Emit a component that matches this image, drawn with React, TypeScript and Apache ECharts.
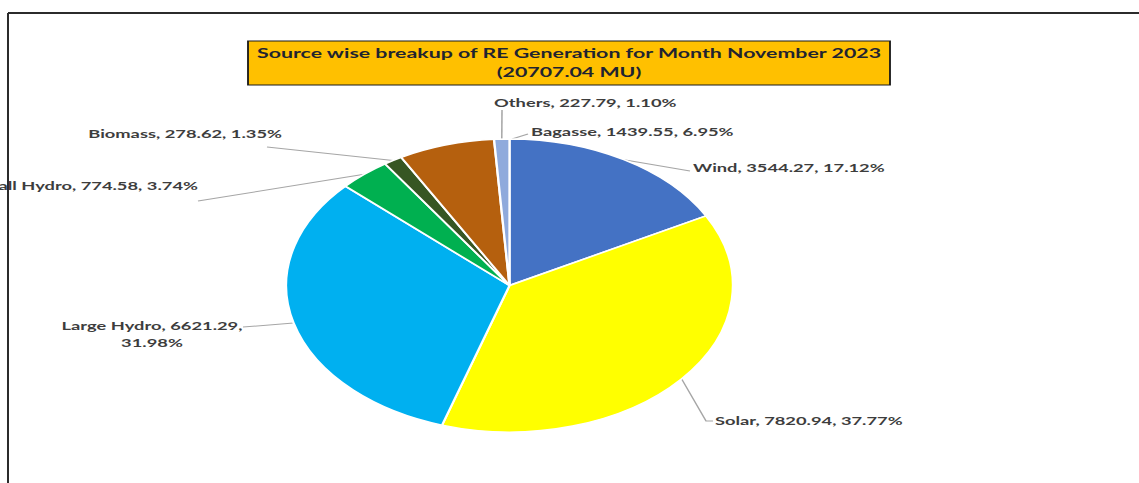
import React, { useEffect, useRef } from "react";
import * as echarts from "echarts";

// Page and horizontal stretch (the reference image is stretched horizontally)
const PAGE_W = 1139;
const PAGE_H = 483;
const INNER_W = 747;
const S = PAGE_W / INNER_W;

// ---- Data ----
const categories = ["Wind", "Solar", "Large Hydro", "Small Hydro", "Biomass", "Bagasse", "Others"];
const values = [3544.27, 7820.94, 6621.29, 774.58, 278.62, 1439.55, 227.79];
const colors = ["#4472C4", "#FFFF00", "#00B0F0", "#00B050", "#375623", "#B5600E", "#8FAADC"];
const titleLines = ["Source wise breakup of RE Generation for Month November 2023", "(20707.04 MU)"];

// ---- Label placement (page pixels, before stretch) ----
type Place = { x: number; y: number; align: string; line: number[][]; start?: number[] };
const labelPlacement: Place[] = [
  { x: 693, y: 167, align: "left", line: [[690, 171]] },
  { x: 715, y: 420, align: "left", line: [[706, 421], [713, 421]] },
  { x: 152, y: 334, align: "center", line: [[243, 327]] },
  { x: 198, y: 185, align: "right", line: [[198, 201]] },
  { x: 282, y: 133, align: "right", line: [[267, 147]] },
  { x: 531, y: 131, align: "left", line: [[528, 134]], start: [512, 139] },
  { x: 494, y: 102, align: "left", line: [[502, 110]] },
];

const total = values.reduce((a, b) => a + b, 0);
const FONT = "Lato, 'Open Sans', sans-serif";

export default function App() {
  const ref = useRef<HTMLDivElement>(null);

  useEffect(() => {
    if (!ref.current) return;
    const chart = echarts.init(ref.current, null, { renderer: "svg", width: INNER_W, height: PAGE_H });
    const X = (v: number) => v / S;

    const option: any = {
      animation: false,
      backgroundColor: "#ffffff",
      graphic: {
        elements: [
          {
            type: "line",
            shape: { x1: X(8), y1: 13, x2: INNER_W, y2: 13 },
            style: { stroke: "#2b2b2b", lineWidth: 2 },
            silent: true,
          },
          {
            type: "line",
            shape: { x1: X(8), y1: 13, x2: X(8), y2: PAGE_H },
            style: { stroke: "#2b2b2b", lineWidth: 2 / S },
            silent: true,
          },
          {
            type: "rect",
            shape: { x: X(248), y: 41, width: X(890) - X(248), height: 44 },
            style: { fill: "#FFC000", stroke: "#1a1a1a", lineWidth: 1.2 },
            silent: true,
          },
          {
            type: "text",
            x: X(569),
            y: 53,
            style: {
              text: titleLines[0],
              font: `bold 14px ${FONT}`,
              fill: "#1f2430",
              textAlign: "center",
              textVerticalAlign: "middle",
            },
            silent: true,
          },
          {
            type: "text",
            x: X(569),
            y: 72,
            style: {
              text: titleLines[1],
              font: `bold 14px ${FONT}`,
              fill: "#1f2430",
              textAlign: "center",
              textVerticalAlign: "middle",
            },
            silent: true,
          },
        ],
      },
      series: [
        {
          type: "pie",
          center: [X(509.5), 285.5],
          radius: 146.5,
          startAngle: 90,
          clockwise: true,
          avoidLabelOverlap: false,
          minShowLabelAngle: 0,
          itemStyle: { borderColor: "#ffffff", borderWidth: 1.5 },
          label: {
            show: true,
            position: "outside",
            color: "#3d3d3d",
            fontFamily: FONT,
            fontWeight: "bold",
            fontSize: 12,
            lineHeight: 17,
            formatter: (p: any) => {
              const pct = ((p.value / total) * 100).toFixed(2) + "%";
              const v = p.value.toFixed(2);
              if (p.name === "Large Hydro") return `${p.name}, ${v},\n${pct}`;
              return `${p.name}, ${v}, ${pct}`;
            },
          },
          labelLine: {
            show: true,
            smooth: false,
            lineStyle: { color: "#A6A6A6", width: 1 },
          },
          labelLayout: (params: any) => {
            const pl = labelPlacement[params.dataIndex];
            if (!pl) return {};
            const p0 = pl.start
              ? [X(pl.start[0]), pl.start[1]]
              : params.labelLinePoints && params.labelLinePoints[0]
              ? params.labelLinePoints[0]
              : [X(pl.x), pl.y];
            const pts = [p0, ...pl.line.map((q) => [X(q[0]), q[1]])];
            return {
              x: X(pl.x),
              y: pl.y,
              align: pl.align,
              verticalAlign: "middle",
              hideOverlap: false,
              labelLinePoints: pts,
            };
          },
          data: categories.map((name, i) => ({
            name,
            value: values[i],
            itemStyle: { color: colors[i] },
          })),
        },
      ],
    };

    chart.setOption(option);
    return () => chart.dispose();
  }, []);

  return (
    <div
      style={{
        position: "fixed",
        left: 0,
        top: 0,
        width: PAGE_W,
        height: PAGE_H,
        overflow: "hidden",
        background: "#ffffff",
      }}
    >
      <div
        ref={ref}
        style={{
          width: INNER_W,
          height: PAGE_H,
          transform: `scaleX(${S})`,
          transformOrigin: "0 0",
        }}
      />
    </div>
  );
}
